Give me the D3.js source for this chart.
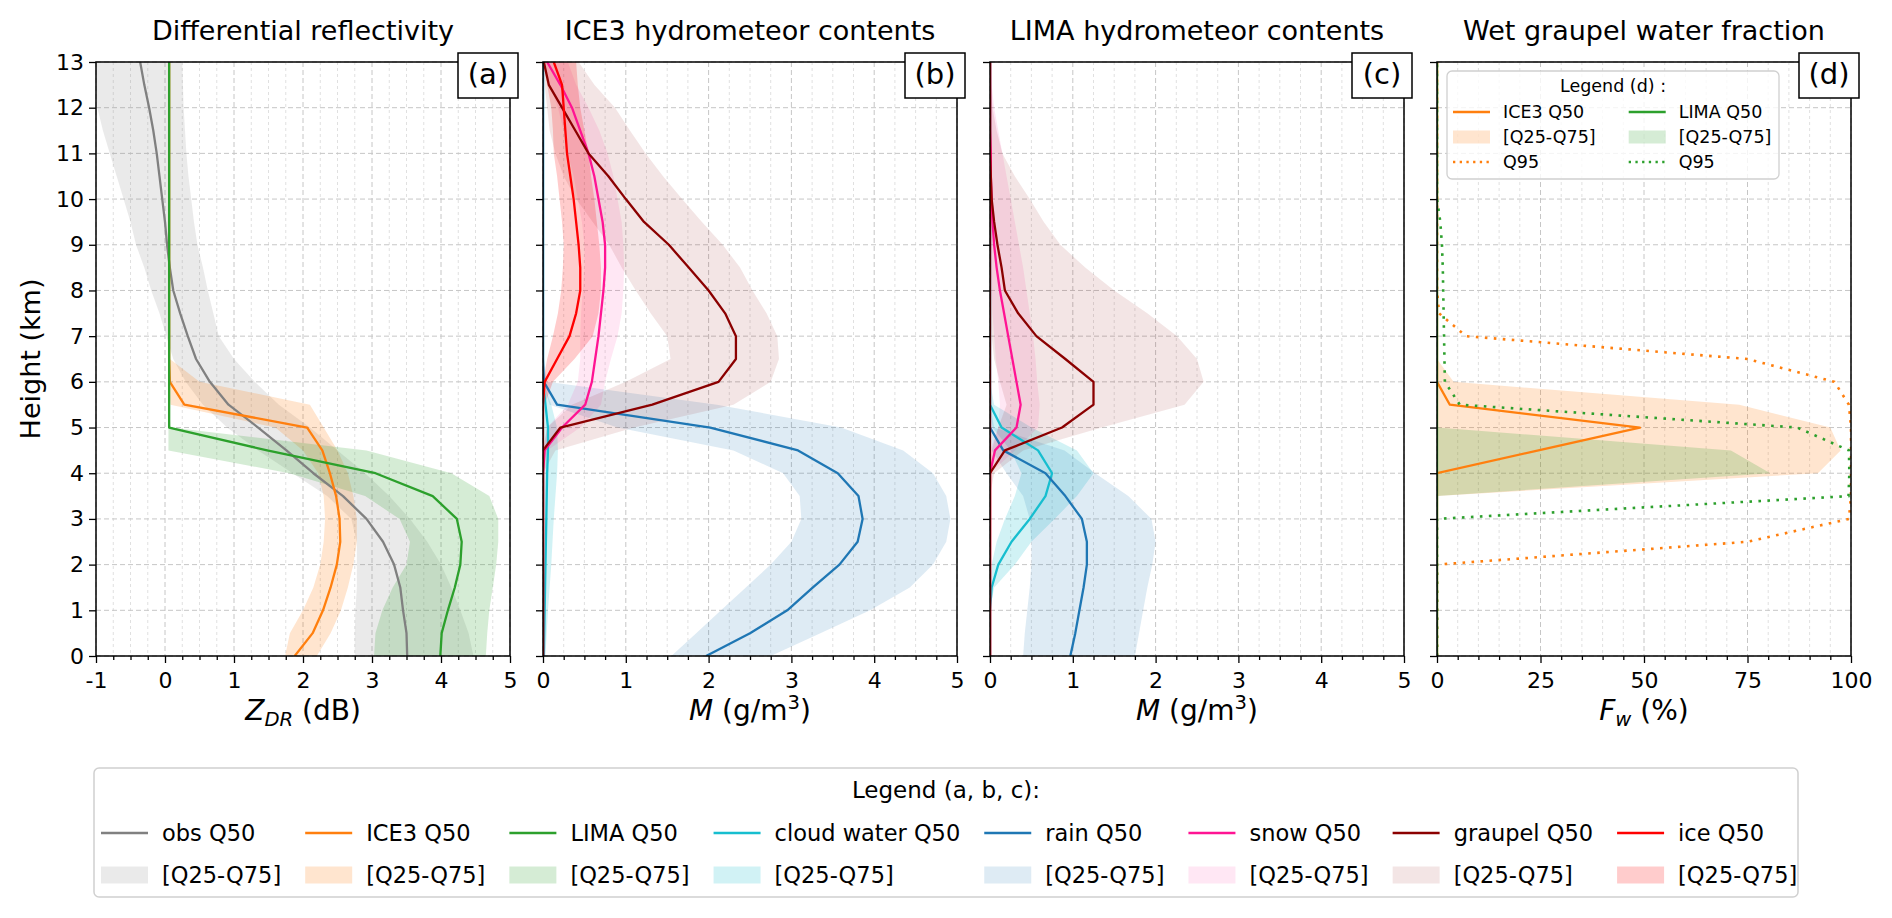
<!DOCTYPE html>
<html>
<head>
<meta charset="utf-8">
<script src="https://cdn.jsdelivr.net/npm/d3@7"></script>
<style>
  body { margin: 0; background: #fff; }
  text { font-family: "DejaVu Sans", sans-serif; fill: #000; }
</style>
</head>
<body>
<svg id="fig" width="1892" height="918"></svg>
<script>
// heights of the profiles (km)
const heights = [0, 0.5, 1, 1.5, 2, 2.5, 3, 3.5, 4, 4.5, 5, 5.5, 6, 6.5, 7, 7.5, 8, 8.5, 9, 9.5, 10, 10.5, 11, 11.5, 12, 12.5, 13];

// (a) differential reflectivity (dB)
const obsQ25 = [2.75, 2.75, 2.76, 2.78, 2.78, 2.78, 2.70, 2.35, 1.85, 1.35, 0.90, 0.55, 0.30, 0.12, 0.02, -0.08, -0.20, -0.30, -0.42, -0.50, -0.60, -0.70, -0.80, -0.90, -0.98, -1.00, -1.00];
const obsQ50 = [3.51, 3.50, 3.45, 3.41, 3.32, 3.16, 2.92, 2.58, 2.15, 1.76, 1.35, 0.92, 0.65, 0.45, 0.33, 0.22, 0.12, 0.07, 0.03, 0.00, -0.04, -0.08, -0.12, -0.17, -0.23, -0.30, -0.36];
const obsQ75 = [4.47, 4.40, 4.28, 4.15, 4.00, 3.80, 3.55, 3.25, 2.90, 2.50, 2.10, 1.65, 1.30, 1.00, 0.78, 0.70, 0.62, 0.55, 0.47, 0.42, 0.38, 0.34, 0.31, 0.29, 0.27, 0.26, 0.25];
const ice3ZdrQ25 = [1.74, 1.81, 2.00, 2.15, 2.25, 2.30, 2.32, 2.30, 2.22, 2.00, 1.60, 0.08, 0.05, 0.05, 0.05, 0.05, 0.05, 0.05, 0.05, 0.05, 0.05, 0.05, 0.05, 0.05, 0.05, 0.05, 0.05];
const ice3ZdrQ50 = [1.88, 2.14, 2.29, 2.40, 2.49, 2.54, 2.53, 2.48, 2.39, 2.28, 2.06, 0.28, 0.07, 0.06, 0.06, 0.06, 0.06, 0.06, 0.06, 0.06, 0.06, 0.06, 0.06, 0.06, 0.06, 0.06, 0.06];
const ice3ZdrQ75 = [2.20, 2.40, 2.55, 2.65, 2.73, 2.78, 2.78, 2.73, 2.65, 2.50, 2.30, 2.10, 0.50, 0.07, 0.07, 0.07, 0.07, 0.07, 0.07, 0.07, 0.07, 0.07, 0.07, 0.07, 0.07, 0.07, 0.07];
const limaZdrQ25 = [3.03, 3.05, 3.15, 3.30, 3.50, 3.55, 3.40, 2.90, 1.80, 0.05, 0.05, 0.05, 0.05, 0.05, 0.05, 0.05, 0.05, 0.05, 0.05, 0.05, 0.05, 0.05, 0.05, 0.05, 0.05, 0.05, 0.05];
const limaZdrQ50 = [3.99, 4.01, 4.10, 4.20, 4.28, 4.30, 4.23, 3.88, 3.05, 1.48, 0.06, 0.06, 0.06, 0.06, 0.06, 0.06, 0.06, 0.06, 0.06, 0.06, 0.06, 0.06, 0.06, 0.06, 0.06, 0.06, 0.06];
const limaZdrQ75 = [4.65, 4.67, 4.70, 4.75, 4.80, 4.83, 4.83, 4.70, 4.15, 2.92, 0.08, 0.06, 0.06, 0.06, 0.06, 0.06, 0.06, 0.06, 0.06, 0.06, 0.06, 0.06, 0.06, 0.06, 0.06, 0.06, 0.06];

// (b) ICE3 hydrometeor contents (g/m3)
const ice3CloudQ25 = [0, 0, 0, 0, 0, 0, 0, 0, 0, 0, 0, 0, 0, 0, 0, 0, 0, 0, 0, 0, 0, 0, 0, 0, 0, 0, 0];
const ice3CloudQ50 = [0.01, 0.015, 0.02, 0.025, 0.03, 0.035, 0.04, 0.045, 0.05, 0.06, 0.06, 0.03, 0, 0, 0, 0, 0, 0, 0, 0, 0, 0, 0, 0, 0, 0, 0];
const ice3CloudQ75 = [0.03, 0.045, 0.06, 0.08, 0.10, 0.115, 0.13, 0.15, 0.17, 0.18, 0.17, 0.10, 0, 0, 0, 0, 0, 0, 0, 0, 0, 0, 0, 0, 0, 0, 0];
const ice3RainQ25 = [1.55, 1.85, 2.15, 2.45, 2.75, 3.00, 3.12, 3.10, 2.90, 2.30, 0.90, 0.08, 0, 0, 0, 0, 0, 0, 0, 0, 0, 0, 0, 0, 0, 0, 0];
const ice3RainQ50 = [1.97, 2.50, 2.95, 3.26, 3.58, 3.80, 3.86, 3.81, 3.56, 3.08, 2.02, 0.17, 0.01, 0, 0, 0, 0, 0, 0, 0, 0, 0, 0, 0, 0, 0, 0];
const ice3RainQ75 = [2.75, 3.35, 3.95, 4.43, 4.71, 4.87, 4.92, 4.87, 4.71, 4.35, 3.60, 2.10, 0.05, 0, 0, 0, 0, 0, 0, 0, 0, 0, 0, 0, 0, 0, 0];
const ice3SnowQ25 = [0, 0, 0, 0, 0, 0, 0, 0, 0, 0, 0.05, 0.30, 0.42, 0.45, 0.45, 0.46, 0.48, 0.50, 0.50, 0.47, 0.42, 0.37, 0.30, 0.25, 0.18, 0.08, 0];
const ice3SnowQ50 = [0, 0, 0, 0, 0, 0, 0, 0, 0, 0.02, 0.23, 0.51, 0.59, 0.63, 0.67, 0.70, 0.73, 0.75, 0.75, 0.72, 0.67, 0.62, 0.55, 0.45, 0.35, 0.21, 0.05];
const ice3SnowQ75 = [0, 0, 0, 0, 0, 0, 0, 0, 0, 0.05, 0.45, 0.70, 0.75, 0.82, 0.90, 0.95, 0.97, 0.98, 0.97, 0.95, 0.90, 0.85, 0.78, 0.68, 0.55, 0.40, 0.30];
const ice3GraupelQ25 = [0, 0, 0, 0, 0, 0, 0, 0, 0, 0, 0.05, 0.35, 1.00, 1.54, 1.50, 1.30, 1.12, 0.95, 0.80, 0.60, 0.40, 0.25, 0.15, 0.08, 0.05, 0.02, 0];
const ice3GraupelQ50 = [0, 0, 0, 0, 0, 0, 0, 0, 0, 0, 0.21, 1.32, 2.12, 2.33, 2.33, 2.20, 2.00, 1.76, 1.52, 1.22, 1.00, 0.79, 0.55, 0.39, 0.23, 0.07, 0.01];
const ice3GraupelQ75 = [0, 0, 0, 0, 0, 0, 0, 0, 0, 0.15, 1.10, 2.30, 2.75, 2.85, 2.83, 2.70, 2.53, 2.38, 2.17, 1.92, 1.68, 1.45, 1.24, 1.05, 0.87, 0.62, 0.43];
const ice3IceQ25 = [0, 0, 0, 0, 0, 0, 0, 0, 0, 0, 0, 0, 0, 0.05, 0.12, 0.18, 0.22, 0.24, 0.25, 0.23, 0.20, 0.17, 0.13, 0.12, 0.10, 0.05, 0];
const ice3IceQ50 = [0, 0, 0, 0, 0, 0, 0, 0, 0, 0, 0, 0, 0.02, 0.17, 0.32, 0.40, 0.45, 0.45, 0.43, 0.40, 0.37, 0.33, 0.29, 0.27, 0.25, 0.23, 0.13];
const ice3IceQ75 = [0, 0, 0, 0, 0, 0, 0, 0, 0, 0, 0, 0.02, 0.12, 0.38, 0.60, 0.67, 0.70, 0.70, 0.68, 0.65, 0.62, 0.58, 0.55, 0.50, 0.45, 0.42, 0.40];

// (c) LIMA hydrometeor contents (g/m3)
const limaCloudQ25 = [0, 0, 0, 0, 0.02, 0.08, 0.18, 0.30, 0.38, 0.25, 0.03, 0, 0, 0, 0, 0, 0, 0, 0, 0, 0, 0, 0, 0, 0, 0, 0];
const limaCloudQ50 = [0, 0, 0, 0.02, 0.10, 0.26, 0.48, 0.67, 0.75, 0.58, 0.14, 0, 0, 0, 0, 0, 0, 0, 0, 0, 0, 0, 0, 0, 0, 0, 0];
const limaCloudQ75 = [0, 0, 0, 0.05, 0.30, 0.50, 0.78, 1.05, 1.25, 1.05, 0.50, 0.05, 0, 0, 0, 0, 0, 0, 0, 0, 0, 0, 0, 0, 0, 0, 0];
const limaRainQ25 = [0.40, 0.42, 0.45, 0.48, 0.50, 0.50, 0.48, 0.40, 0.20, 0.02, 0, 0, 0, 0, 0, 0, 0, 0, 0, 0, 0, 0, 0, 0, 0, 0, 0];
const limaRainQ50 = [0.97, 1.03, 1.08, 1.13, 1.17, 1.17, 1.11, 0.91, 0.67, 0.16, 0, 0, 0, 0, 0, 0, 0, 0, 0, 0, 0, 0, 0, 0, 0, 0, 0];
const limaRainQ75 = [1.75, 1.80, 1.85, 1.90, 1.96, 2.00, 1.95, 1.67, 1.27, 0.90, 0.05, 0, 0, 0, 0, 0, 0, 0, 0, 0, 0, 0, 0, 0, 0, 0, 0];
const limaSnowQ25 = [0, 0, 0, 0, 0, 0, 0, 0, 0, 0, 0.10, 0.12, 0.10, 0.07, 0.05, 0.03, 0.02, 0.01, 0, 0, 0, 0, 0, 0, 0, 0, 0];
const limaSnowQ50 = [0, 0, 0, 0, 0, 0, 0, 0, 0, 0.06, 0.32, 0.37, 0.32, 0.27, 0.22, 0.17, 0.12, 0.08, 0.05, 0.03, 0.02, 0.01, 0.01, 0, 0, 0, 0];
const limaSnowQ75 = [0, 0, 0, 0, 0, 0, 0, 0, 0, 0.30, 0.58, 0.60, 0.57, 0.55, 0.52, 0.48, 0.44, 0.40, 0.35, 0.30, 0.25, 0.20, 0.15, 0.10, 0.05, 0.02, 0];
const limaGraupelQ25 = [0, 0, 0, 0, 0, 0, 0, 0, 0, 0.02, 0.10, 0.20, 0.12, 0.05, 0.02, 0, 0, 0, 0, 0, 0, 0, 0, 0, 0, 0, 0];
const limaGraupelQ50 = [0, 0, 0, 0, 0, 0, 0, 0, 0, 0.18, 0.87, 1.25, 1.25, 0.91, 0.56, 0.34, 0.18, 0.14, 0.09, 0.05, 0.02, 0.01, 0, 0, 0, 0, 0];
const limaGraupelQ75 = [0, 0, 0, 0, 0, 0, 0, 0, 0.05, 0.40, 1.35, 2.35, 2.58, 2.50, 2.26, 1.90, 1.50, 1.15, 0.85, 0.65, 0.48, 0.30, 0.15, 0.08, 0.03, 0.01, 0];
const limaIceQ25 = [0, 0, 0, 0, 0, 0, 0, 0, 0, 0, 0, 0, 0, 0, 0, 0, 0, 0, 0, 0, 0, 0, 0, 0, 0, 0, 0];
const limaIceQ50 = [0, 0, 0, 0, 0, 0, 0, 0, 0, 0, 0, 0, 0, 0, 0, 0, 0, 0, 0, 0, 0, 0, 0, 0, 0, 0, 0];
const limaIceQ75 = [0, 0, 0, 0, 0, 0, 0, 0, 0, 0, 0, 0, 0, 0, 0, 0, 0, 0, 0, 0, 0, 0, 0, 0, 0, 0, 0];

// (d) wet graupel water fraction (%)
const ice3FwQ25 = [0, 0, 0, 0, 0, 0, 0, 0, 0, 0, 0, 0, 0, 0, 0, 0, 0, 0, 0, 0, 0, 0, 0, 0, 0, 0, 0];
const ice3FwQ50 = [0, 0, 0, 0, 0, 0, 0, 0, 0, 24.5, 49, 3.1, 0, 0, 0, 0, 0, 0, 0, 0, 0, 0, 0, 0, 0, 0, 0];
const ice3FwQ75 = [0, 0, 0, 0, 0, 0, 0, 0, 92, 97.5, 95, 73, 4, 0, 0, 0, 0, 0, 0, 0, 0, 0, 0, 0, 0, 0, 0];
const ice3FwQ95 = [0, 0, 0, 0, 0, 75, 99.5, 100, 100, 100, 100, 99.5, 96, 75, 7, 0.5, 0, 0, 0, 0, 0, 0, 0, 0, 0, 0, 0];
const limaFwQ25 = [0, 0, 0, 0, 0, 0, 0, 0, 0, 0, 0, 0, 0, 0, 0, 0, 0, 0, 0, 0, 0, 0, 0, 0, 0, 0, 0];
const limaFwQ50 = [0, 0, 0, 0, 0, 0, 0, 0, 0, 0, 0, 0, 0, 0, 0, 0, 0, 0, 0, 0, 0, 0, 0, 0, 0, 0, 0];
const limaFwQ75 = [0, 0, 0, 0, 0, 0, 0, 0, 80.5, 71, 0, 0, 0, 0, 0, 0, 0, 0, 0, 0, 0, 0, 0, 0, 0, 0, 0];
const limaFwQ95 = [0, 0, 0, 0, 0, 0, 0, 99.4, 99.6, 99.5, 87, 5.5, 1.9, 1.8, 1.7, 1.6, 1.5, 1.4, 1.2, 0.8, 0, 0, 0, 0, 0, 0, 0];

// ticks and labels
const heightTicks = [0, 1, 2, 3, 4, 5, 6, 7, 8, 9, 10, 11, 12, 13];
const zdrTicks = [-1, 0, 1, 2, 3, 4, 5];
const massTicks = [0, 1, 2, 3, 4, 5];
const fwTicks = [0, 25, 50, 75, 100];
const panelTitles = ['Differential reflectivity', 'ICE3 hydrometeor contents', 'LIMA hydrometeor contents', 'Wet graupel water fraction'];
const panelLetters = ['(a)', '(b)', '(c)', '(d)'];

const C = {
  obs: '#808080', ice3: '#ff7f0e', lima: '#2ca02c', cloud: '#17becf',
  rain: '#1f77b4', snow: '#ff1493', graupel: '#8b0000', ice: '#ff0000'
};
const A = { obs: 0.17, ice3: 0.2, lima: 0.2, cloud: 0.2, rain: 0.15, snow: 0.1, graupel: 0.1, ice: 0.2 };

const svg = d3.select('#fig');
const plotTop = 62, plotBottom = 656, panelW = 414;
const panelX = [96, 543, 990, 1437];
const y = d3.scaleLinear().domain([0, 13]).range([plotBottom, plotTop]);

const panels = [
  { domain: [-1, 5], ticks: zdrTicks, minor: 0.25, series: [
      { key: 'obs', q25: obsQ25, q50: obsQ50, q75: obsQ75 },
      { key: 'ice3', q25: ice3ZdrQ25, q50: ice3ZdrQ50, q75: ice3ZdrQ75 },
      { key: 'lima', q25: limaZdrQ25, q50: limaZdrQ50, q75: limaZdrQ75 }] },
  { domain: [0, 5], ticks: massTicks, minor: 0.25, series: [
      { key: 'cloud', q25: ice3CloudQ25, q50: ice3CloudQ50, q75: ice3CloudQ75 },
      { key: 'rain', q25: ice3RainQ25, q50: ice3RainQ50, q75: ice3RainQ75 },
      { key: 'snow', q25: ice3SnowQ25, q50: ice3SnowQ50, q75: ice3SnowQ75 },
      { key: 'graupel', q25: ice3GraupelQ25, q50: ice3GraupelQ50, q75: ice3GraupelQ75 },
      { key: 'ice', q25: ice3IceQ25, q50: ice3IceQ50, q75: ice3IceQ75 }] },
  { domain: [0, 5], ticks: massTicks, minor: 0.25, series: [
      { key: 'cloud', q25: limaCloudQ25, q50: limaCloudQ50, q75: limaCloudQ75 },
      { key: 'rain', q25: limaRainQ25, q50: limaRainQ50, q75: limaRainQ75 },
      { key: 'snow', q25: limaSnowQ25, q50: limaSnowQ50, q75: limaSnowQ75 },
      { key: 'graupel', q25: limaGraupelQ25, q50: limaGraupelQ50, q75: limaGraupelQ75 },
      { key: 'ice', q25: limaIceQ25, q50: limaIceQ50, q75: limaIceQ75 }] },
  { domain: [0, 100], ticks: fwTicks, minor: 5, series: [
      { key: 'ice3', q25: ice3FwQ25, q50: ice3FwQ50, q75: ice3FwQ75, q95: ice3FwQ95 },
      { key: 'lima', q25: limaFwQ25, q50: limaFwQ50, q75: limaFwQ75, q95: limaFwQ95 }] }
];

function drawPanel(p, i) {
  const x0 = panelX[i];
  const x = d3.scaleLinear().domain(p.domain).range([x0, x0 + panelW]);
  const minorTicks = d3.range(p.domain[0], p.domain[1] + 1e-9, p.minor).filter(v => !p.ticks.includes(v));

  svg.append('clipPath').attr('id', 'clip' + i)
    .append('rect').attr('x', x0).attr('y', plotTop).attr('width', panelW).attr('height', plotBottom - plotTop);

  const g = svg.append('g');

  // grid
  g.append('g').selectAll('line').data(minorTicks).join('line')
    .attr('x1', d => x(d)).attr('x2', d => x(d)).attr('y1', plotTop).attr('y2', plotBottom)
    .attr('stroke', '#e0e0e0').attr('stroke-width', 1).attr('stroke-dasharray', '3,3');
  g.append('g').selectAll('line').data(p.ticks).join('line')
    .attr('x1', d => x(d)).attr('x2', d => x(d)).attr('y1', plotTop).attr('y2', plotBottom)
    .attr('stroke', '#c6c6c6').attr('stroke-width', 1).attr('stroke-dasharray', '5,3');
  g.append('g').selectAll('line').data(heightTicks).join('line')
    .attr('x1', x0).attr('x2', x0 + panelW).attr('y1', d => y(d)).attr('y2', d => y(d))
    .attr('stroke', '#c6c6c6').attr('stroke-width', 1).attr('stroke-dasharray', '5,3');

  const data = g.append('g').attr('clip-path', `url(#clip${i})`);
  const idx = heights.map((h, k) => k);

  p.series.forEach(s => {
    const area = d3.area()
      .y(k => y(heights[k]))
      .x0(k => x(s.q25[k]))
      .x1(k => x(s.q75[k]));
    data.append('path').attr('d', area(idx))
      .attr('fill', C[s.key]).attr('fill-opacity', A[s.key]).attr('stroke', 'none');
  });
  p.series.forEach(s => {
    const line = v => d3.line().x(k => x(v[k])).y(k => y(heights[k]))(idx);
    data.append('path').attr('d', line(s.q50))
      .attr('fill', 'none').attr('stroke', C[s.key]).attr('stroke-width', 2.3)
      .attr('stroke-linejoin', 'round');
    if (s.q95) {
      data.append('path').attr('d', line(s.q95))
        .attr('fill', 'none').attr('stroke', C[s.key]).attr('stroke-width', 2.6)
        .attr('stroke-dasharray', '2.6,6.4');
    }
  });

  // axes
  const xAxis = g.append('g').attr('transform', `translate(0,${plotBottom})`)
    .call(d3.axisBottom(x).tickValues(p.ticks).tickSize(7).tickPadding(9)
      .tickFormat(d => String(d)));
  xAxis.selectAll('text').style('font-size', '22px').style('font-family', 'DejaVu Sans');
  const xMinor = g.append('g').attr('transform', `translate(0,${plotBottom})`)
    .call(d3.axisBottom(x).tickValues(minorTicks).tickSize(4).tickFormat(''));
  const yAxis = g.append('g').attr('transform', `translate(${x0},0)`)
    .call(d3.axisLeft(y).tickValues(heightTicks).tickSize(7).tickPadding(5)
      .tickFormat(i === 0 ? d => String(d) : ''));
  yAxis.selectAll('text').style('font-size', '22px').style('font-family', 'DejaVu Sans');
  [xAxis, xMinor, yAxis].forEach(a => {
    a.select('.domain').remove();
    a.selectAll('line').attr('stroke', '#000').attr('stroke-width', 1.3);
  });

  g.append('rect').attr('x', x0).attr('y', plotTop).attr('width', panelW).attr('height', plotBottom - plotTop)
    .attr('fill', 'none').attr('stroke', '#000').attr('stroke-width', 1.5);

  // title
  svg.append('text').attr('x', x0 + panelW / 2).attr('y', 40).attr('text-anchor', 'middle')
    .style('font-size', '27px').text(panelTitles[i]);

  // panel letter box
  const bx = x0 + panelW + 8;
  svg.append('rect').attr('x', bx - 60).attr('y', plotTop - 9).attr('width', 60).attr('height', 45)
    .attr('fill', '#fff').attr('stroke', '#000').attr('stroke-width', 1.5);
  svg.append('text').attr('x', bx - 30).attr('y', 84).attr('text-anchor', 'middle')
    .style('font-size', '29px').text(panelLetters[i]);

  return x;
}

panels.forEach(drawPanel);

// axis labels
const xLabelY = 720;
const mid = i => panelX[i] + panelW / 2;
const la = svg.append('text').attr('x', mid(0)).attr('y', xLabelY).attr('text-anchor', 'middle').style('font-size', '28px');
la.append('tspan').style('font-style', 'italic').text('Z');
la.append('tspan').style('font-style', 'italic').style('font-size', '19.6px').attr('dy', 6).text('DR');
la.append('tspan').attr('dy', -6).text(' (dB)');
[1, 2].forEach(i => {
  const lb = svg.append('text').attr('x', mid(i)).attr('y', xLabelY).attr('text-anchor', 'middle').style('font-size', '28px');
  lb.append('tspan').style('font-style', 'italic').text('M');
  lb.append('tspan').text(' (g/m');
  lb.append('tspan').style('font-size', '19.6px').attr('dy', -11).text('3');
  lb.append('tspan').attr('dy', 11).text(')');
});
const ld = svg.append('text').attr('x', mid(3)).attr('y', xLabelY).attr('text-anchor', 'middle').style('font-size', '28px');
ld.append('tspan').style('font-style', 'italic').text('F');
ld.append('tspan').style('font-style', 'italic').style('font-size', '19.6px').attr('dy', 6).text('w');
ld.append('tspan').attr('dy', -6).text(' (%)');

svg.append('text').attr('transform', `translate(40,${(plotTop + plotBottom) / 2}) rotate(-90)`)
  .attr('text-anchor', 'middle').style('font-size', '27px').text('Height (km)');

// legend (a, b, c)
const legendKeys = ['obs', 'ice3', 'lima', 'cloud', 'rain', 'snow', 'graupel', 'ice'];
const legendNames = ['obs Q50', 'ICE3 Q50', 'LIMA Q50', 'cloud water Q50', 'rain Q50', 'snow Q50', 'graupel Q50', 'ice Q50'];
const bandLabel = '[Q25-Q75]';

const lg = svg.append('g');
lg.append('rect').attr('x', 94).attr('y', 768).attr('width', 1704).attr('height', 129)
  .attr('rx', 5).attr('fill', '#fff').attr('stroke', '#d0d0d0').attr('stroke-width', 1.5);
lg.append('text').attr('x', 946).attr('y', 798).attr('text-anchor', 'middle')
  .style('font-size', '23px').text('Legend (a, b, c):');
let cx = 101;
const rowY = [833, 875];
legendKeys.forEach((k, i) => {
  lg.append('line').attr('x1', cx).attr('x2', cx + 47).attr('y1', rowY[0]).attr('y2', rowY[0])
    .attr('stroke', C[k]).attr('stroke-width', 2.6);
  lg.append('rect').attr('x', cx).attr('y', rowY[1] - 8.5).attr('width', 47).attr('height', 17)
    .attr('fill', C[k]).attr('fill-opacity', A[k]);
  const t1 = lg.append('text').attr('x', cx + 61).attr('y', rowY[0] + 8).style('font-size', '22.5px').text(legendNames[i]);
  const t2 = lg.append('text').attr('x', cx + 61).attr('y', rowY[1] + 8).style('font-size', '22.5px').text(bandLabel);
  const w = Math.max(t1.node().getComputedTextLength(), t2.node().getComputedTextLength());
  cx += 61 + w + 24;
});

// legend (d)
const ld2 = svg.append('g');
ld2.append('rect').attr('x', 1447).attr('y', 71).attr('width', 332).attr('height', 108)
  .attr('rx', 5).attr('fill', '#fff').attr('fill-opacity', 0.8).attr('stroke', '#d0d0d0').attr('stroke-width', 1.3);
ld2.append('text').attr('x', 1613).attr('y', 92).attr('text-anchor', 'middle')
  .style('font-size', '17.5px').text('Legend (d) :');
const dRows = [112, 137, 162];
const dCols = [{ key: 'ice3', name: 'ICE3 Q50' }, { key: 'lima', name: 'LIMA Q50' }];
let dx = 1453;
dCols.forEach(c => {
  ld2.append('line').attr('x1', dx).attr('x2', dx + 37).attr('y1', dRows[0]).attr('y2', dRows[0])
    .attr('stroke', C[c.key]).attr('stroke-width', 2.3);
  ld2.append('rect').attr('x', dx).attr('y', dRows[1] - 6.5).attr('width', 37).attr('height', 13)
    .attr('fill', C[c.key]).attr('fill-opacity', A[c.key]);
  ld2.append('line').attr('x1', dx).attr('x2', dx + 37).attr('y1', dRows[2]).attr('y2', dRows[2])
    .attr('stroke', C[c.key]).attr('stroke-width', 2.3).attr('stroke-dasharray', '2.3,4.4');
  const ws = [c.name, bandLabel, 'Q95'].map((s, r) =>
    ld2.append('text').attr('x', dx + 50).attr('y', dRows[r] + 6).style('font-size', '17.5px').text(s)
      .node().getComputedTextLength());
  dx += 50 + d3.max(ws) + 33;
});
</script>
</body>
</html>
